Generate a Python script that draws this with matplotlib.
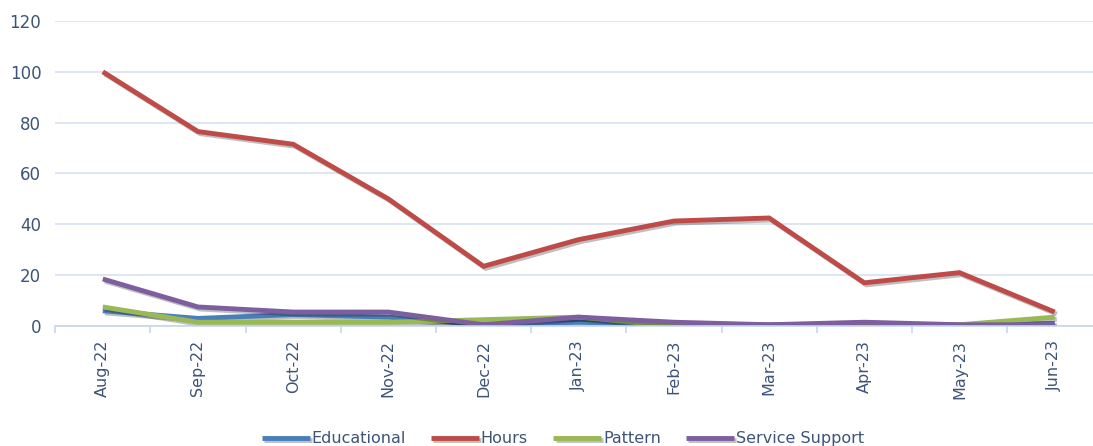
import matplotlib.pyplot as plt
import matplotlib.patheffects as pe
import numpy as np

months = ['Aug-22', 'Sep-22', 'Oct-22', 'Nov-22', 'Dec-22', 'Jan-23',
          'Feb-23', 'Mar-23', 'Apr-23', 'May-23', 'Jun-23']
educational = [6, 3, 4.5, 3.5, 0.5, 1.5, 0.5, 0.5, 0.5, 0.5, 1]
hours = [100, 76.5, 71.5, 50, 23.5, 34, 41.3, 42.5, 17, 21, 5.5]
pattern = [7.5, 1.5, 1.5, 1.5, 2.5, 3.5, 0, 0, 0.5, 0.5, 3.5]
service = [18.5, 7.5, 5.5, 5.5, 0.5, 3.5, 1.5, 0.5, 1.5, 0.5, 0.5]

plt.rcParams['font.family'] = ['DejaVu Sans']

fig = plt.figure(figsize=(10.93, 4.46), dpi=100)
# plot area runs a bit past the right edge, as in the original crop
ax = fig.add_axes([0.0505, 0.269, 0.958, 0.684])

x = np.arange(len(months))
shadow = [pe.SimpleLineShadow(offset=(1.5, -1.5), alpha=0.25), pe.Normal()]
series = [('Educational', educational, '#4a7ebb'),
          ('Hours', hours, '#be4b48'),
          ('Pattern', pattern, '#98b954'),
          ('Service Support', service, '#7d5fa0')]
for name, vals, col in series:
    ax.plot(x, vals, color=col, lw=3.5, label=name, path_effects=shadow,
            solid_capstyle='butt', solid_joinstyle='miter')

ax.set_xlim(-0.5, len(months) - 0.5)
ax.set_ylim(0, 120)
ax.set_yticks(range(0, 121, 20))
ax.grid(axis='y', color='#d6e2f2', lw=1.2)
ax.set_axisbelow(True)
for s in ['top', 'right', 'left']:
    ax.spines[s].set_visible(False)
ax.spines['bottom'].set_color('#c7d6ec')
ax.spines['bottom'].set_linewidth(1.2)

txt = '#3d5478'
ax.set_xticks(x)
ax.set_xticklabels(months, rotation=90, fontsize=11.5, color=txt)
ax.set_xticks(np.arange(-0.5, len(months)), minor=True)
ax.tick_params(axis='x', which='major', length=0, pad=10)
ax.tick_params(axis='x', which='minor', length=5, color='#c7d6ec', width=1.2)
ax.tick_params(axis='y', length=0, labelsize=12, labelcolor=txt, pad=10)

fig.legend(loc='center', bbox_to_anchor=(0.515, 0.016), ncol=4, frameon=False,
           fontsize=11.5, handlelength=3, columnspacing=1.6, handletextpad=0.1,
           labelcolor=txt)

fig.savefig('out.png', dpi=100)
